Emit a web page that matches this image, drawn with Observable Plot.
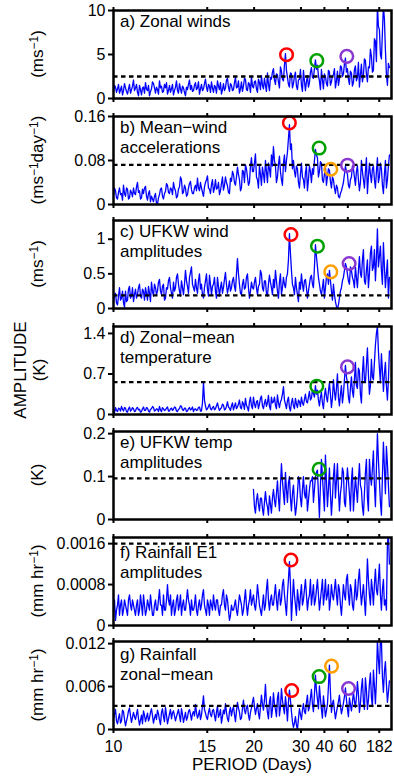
<!DOCTYPE html>
<html><head><meta charset="utf-8">
<script src="https://cdn.jsdelivr.net/npm/d3@7"></script>
<script src="https://cdn.jsdelivr.net/npm/@observablehq/plot@0.6"></script>
<style>
body{margin:0;background:#fff;}
#chart{position:relative;width:394px;height:776px;font-family:"Liberation Sans",Arial,Helvetica,sans-serif;}
#chart svg{position:absolute;left:0;overflow:visible;}
</style></head><body><div id="chart"></div>
<script>
// x tick labels (period, days); x scale is linear in frequency (1/period)
const periodTicks = [10, 15, 20, 30, 40, 60, 182];
const freqStep = 0.0003555;   // spectral grid spacing (cycles/day)
const freqFirst = 0.1;

// a) Zonal winds (m/s)
const zonalWinds = [
0.8,1.5,1.3,0.7,1.1,1.6,0.6,1.0,1.4,0.4,0.9,1.7,1.2,0.8,0.5,1.1,1.6,0.6,1.0,1.4,
2.1,0.9,1.2,1.6,0.7,0.3,1.5,1.0,0.4,1.2,1.3,0.6,1.8,1.1,0.9,1.5,0.3,0.8,1.1,1.9,
1.7,1.2,0.6,1.3,1.0,0.5,2.0,1.2,1.4,0.7,0.8,1.6,1.2,1.8,0.5,0.9,1.5,0.7,1.1,1.6,
0.4,0.9,1.3,2.0,0.9,0.6,1.7,1.1,0.6,1.4,1.2,0.7,0.3,1.3,1.0,1.6,2.1,1.0,1.5,0.8,
0.9,1.5,1.8,1.0,1.2,1.9,0.5,1.1,1.6,0.9,1.1,1.7,2.2,1.3,0.8,1.6,1.4,0.7,1.9,1.2,
0.7,1.5,1.3,0.6,2.0,1.4,1.0,1.8,0.5,1.0,1.7,0.9,1.2,2.1,2.3,1.3,0.8,1.7,1.5,0.9,
1.0,1.8,2.4,1.2,1.3,2.0,0.6,1.1,1.9,0.8,1.4,2.3,2.2,1.0,0.9,1.8,1.6,0.7,2.5,1.4,
1.2,1.9,2.0,1.1,0.7,2.2,1.8,1.0,2.6,1.5,1.1,2.3,1.5,0.8,2.9,1.6,0.9,2.4,2.2,3.0,
3.4,2.1,1.6,2.8,2.7,1.9,1.2,3.6,3.1,2.2,2.0,3.8,5.1,3.2,2.4,1.6,1.3,2.9,2.8,1.2,
1.7,2.5,3.0,1.4,1.0,2.1,2.2,3.3,1.5,0.8,3.2,2.0,0.9,1.9,2.6,1.3,1.8,3.0,3.5,2.4,
2.3,3.4,4.4,3.3,3.8,2.6,2.0,1.0,3.3,2.1,1.1,2.8,2.5,1.7,1.4,3.2,3.0,1.5,1.9,2.6,
2.7,3.4,1.2,2.0,3.1,1.5,2.2,3.7,3.6,2.5,2.8,3.9,4.6,3.0,3.4,2.2,1.6,3.1,2.9,1.4,
1.8,3.3,3.7,2.0,2.4,4.1,1.3,2.7,3.9,1.9,2.6,4.5,4.3,2.8,1.9,3.6,3.5,5.6,4.8,3.0,
3.2,6.8,6.5,4.2,10.5,8.2,7.8,5.0,4.5,7.5,10.5,9.0,5.5,2.8,1.5,4.0,3.5];
// b) Mean-wind accelerations (m/s/day)
const meanWindAcc = [
0.015,0.03,0.025,0.012,0.01,0.022,0.03,0.018,0.02,0.008,0.035,0.02,0.015,0.03,0.028,0.01,0.012,0.026,0.022,0.014,
0.03,0.02,0.018,0.032,0.04,0.022,0.025,0.01,0.012,0.028,0.02,0.03,0.033,0.015,0.008,0.02,0.025,0.005,0.015,0.01,
0.005,0.015,0.02,0.002,0.0,0.012,0.018,0.028,0.03,0.015,0.01,0.02,0.024,0.038,0.035,0.022,0.02,0.03,0.028,0.018,
0.04,0.03,0.025,0.012,0.015,0.028,0.032,0.05,0.045,0.02,0.022,0.035,0.03,0.015,0.018,0.03,0.038,0.042,0.027,0.02,
0.02,0.03,0.035,0.025,0.048,0.03,0.025,0.04,0.03,0.022,0.015,0.032,0.04,0.045,0.052,0.03,0.028,0.02,0.036,0.045,
0.022,0.03,0.045,0.028,0.03,0.04,0.018,0.025,0.038,0.05,0.026,0.035,0.05,0.04,0.034,0.022,0.02,0.048,0.042,0.06,
0.055,0.04,0.035,0.05,0.068,0.055,0.045,0.025,0.03,0.062,0.06,0.04,0.072,0.065,0.05,0.035,0.04,0.07,0.085,0.06,
0.06,0.075,0.092,0.05,0.045,0.03,0.07,0.055,0.035,0.068,0.055,0.04,0.08,0.06,0.04,0.075,0.065,0.05,0.09,0.07,
0.105,0.08,0.07,0.04,0.05,0.072,0.088,0.06,0.045,0.035,0.075,0.09,0.06,0.08,0.095,0.12,0.145,0.1,0.11,0.065,
0.08,0.06,0.05,0.07,0.065,0.04,0.03,0.055,0.075,0.05,0.045,0.03,0.058,0.07,0.025,0.045,0.07,0.06,0.04,0.065,
0.055,0.08,0.1,0.09,0.085,0.05,0.06,0.078,0.075,0.045,0.04,0.055,0.07,0.035,0.05,0.065,0.062,0.042,0.03,0.05,
0.045,0.03,0.02,0.035,0.03,0.015,0.012,0.02,0.025,0.032,0.04,0.055,0.07,0.06,0.055,0.035,0.03,0.045,0.05,0.07,
0.065,0.05,0.035,0.06,0.07,0.045,0.025,0.04,0.08,0.06,0.045,0.03,0.06,0.085,0.02,0.05,0.075,0.055,0.04,0.065,
0.07,0.045,0.03,0.06,0.085,0.04,0.05,0.075,0.065,0.035,0.02,0.055,0.08,0.03,0.045,0.07,0.09];
// c) UFKW wind amplitudes (m/s)
const ufkwWind = [
0.1,0.2,0.22,0.08,0.05,0.18,0.3,0.12,0.15,0.25,0.08,0.02,0.25,0.1,0.12,0.28,0.32,0.15,0.18,0.3,
0.1,0.2,0.28,0.15,0.2,0.3,0.35,0.18,0.15,0.28,0.25,0.12,0.3,0.22,0.12,0.32,0.22,0.1,0.38,0.25,
0.18,0.35,0.3,0.2,0.25,0.38,0.42,0.25,0.2,0.32,0.35,0.12,0.15,0.3,0.28,0.4,0.45,0.3,0.22,0.15,
0.38,0.25,0.3,0.45,0.5,0.35,0.25,0.18,0.4,0.3,0.2,0.35,0.55,0.4,0.32,0.22,0.45,0.52,0.6,0.35,
0.3,0.25,0.42,0.3,0.22,0.4,0.5,0.28,0.35,0.2,0.15,0.3,0.4,0.5,0.28,0.18,0.48,0.35,0.2,0.32,
0.35,0.45,0.25,0.15,0.45,0.32,0.18,0.3,0.38,0.22,0.3,0.42,0.52,0.35,0.22,0.3,0.4,0.25,0.3,0.4,
0.45,0.32,0.25,0.5,0.72,0.5,0.35,0.22,0.2,0.35,0.42,0.28,0.3,0.45,0.5,0.3,0.15,0.25,0.38,0.3,
0.28,0.38,0.45,0.3,0.2,0.32,0.35,0.55,0.5,0.3,0.25,0.4,0.4,0.22,0.18,0.35,0.48,0.38,0.3,0.2,
0.42,0.3,0.55,0.4,0.25,0.15,0.38,0.5,0.2,0.3,0.45,0.35,0.3,0.45,0.5,0.7,1.08,0.8,0.55,0.35,
0.3,0.2,0.45,0.3,0.2,0.1,0.38,0.28,0.5,0.35,0.25,0.4,0.42,0.3,0.15,0.25,0.35,0.45,0.48,0.35,
0.3,0.6,0.92,0.75,0.6,0.45,0.35,0.25,0.2,0.3,0.42,0.15,0.3,0.45,0.5,0.35,0.55,0.4,0.25,0.12,
0.35,0.2,0.1,0.03,0.0,0.05,0.15,0.25,0.3,0.4,0.45,0.55,0.65,0.6,0.5,0.4,0.35,0.6,0.55,0.45,
0.4,0.3,0.6,0.45,0.3,0.55,0.75,0.5,0.45,0.7,0.85,0.4,0.35,0.55,0.7,0.3,0.5,0.8,0.9,0.55,
0.6,0.85,0.4,0.7,1.15,0.6,0.75,0.9,0.55,0.35,0.95,0.6,0.3,0.5,0.7,0.15,0.45];
// d) Zonal-mean temperature (K)
const zonalMeanTemp = [
0.08,0.03,0.12,0.07,0.05,0.11,0.1,0.06,0.14,0.09,0.06,0.12,0.11,0.05,0.04,0.1,0.13,0.06,0.08,0.12,
0.1,0.05,0.06,0.11,0.12,0.08,0.09,0.04,0.05,0.1,0.13,0.07,0.07,0.12,0.11,0.06,0.04,0.09,0.1,0.14,
0.12,0.06,0.07,0.1,0.09,0.05,0.14,0.08,0.05,0.12,0.1,0.07,0.08,0.11,0.13,0.06,0.06,0.1,0.11,0.07,
0.09,0.13,0.12,0.06,0.05,0.09,0.1,0.15,0.14,0.08,0.07,0.11,0.11,0.05,0.06,0.1,0.12,0.08,0.09,0.13,
0.05,0.09,0.1,0.07,0.08,0.12,0.13,0.06,0.06,0.2,0.55,0.25,0.15,0.08,0.1,0.14,0.18,0.1,0.08,0.12,
0.14,0.08,0.1,0.15,0.2,0.12,0.07,0.1,0.12,0.18,0.16,0.08,0.09,0.14,0.22,0.13,0.11,0.07,0.15,0.2,
0.08,0.14,0.2,0.1,0.13,0.18,0.25,0.12,0.1,0.22,0.18,0.09,0.28,0.16,0.12,0.06,0.22,0.3,0.15,0.1,
0.3,0.18,0.12,0.22,0.24,0.1,0.18,0.28,0.32,0.15,0.1,0.2,0.26,0.14,0.2,0.33,0.14,0.08,0.3,0.2,
0.22,0.3,0.16,0.1,0.34,0.2,0.12,0.22,0.26,0.35,0.48,0.25,0.18,0.1,0.24,0.3,0.12,0.06,0.2,0.28,
0.15,0.1,0.28,0.18,0.12,0.25,0.22,0.14,0.3,0.2,0.16,0.26,0.35,0.22,0.2,0.3,0.4,0.25,0.28,0.42,
0.36,0.3,0.5,0.35,0.42,0.25,0.15,0.3,0.38,0.2,0.1,0.32,0.45,0.3,0.22,0.4,0.55,0.35,0.12,0.28,
0.6,0.4,0.25,0.45,0.7,0.3,0.15,0.35,0.5,0.2,0.35,0.6,0.85,0.65,0.55,0.3,0.2,0.45,0.65,0.4,
0.3,0.6,0.9,0.5,0.45,0.8,0.75,0.35,0.2,0.7,1.0,0.6,0.55,0.85,1.15,0.7,0.35,0.5,0.95,0.65,
0.6,0.9,1.2,1.4,1.52,1.1,0.8,0.55,1.05,0.75,0.4,0.7,0.9,0.5,0.25,0.6,1.1];
// e) UFKW temp amplitudes (K); record starts at grid index 140 (~20 days)
const ufkwTempStart = 140;
const ufkwTemp = [
0.07,0.03,0.015,0.045,0.06,0.035,0.02,0.05,0.05,0.025,0.01,0.04,0.065,0.04,0.03,0.01,0.055,0.035,0.015,0.05,
0.07,0.045,0.03,0.06,0.09,0.05,0.02,0.08,0.13,0.09,0.06,0.035,0.11,0.07,0.04,0.085,0.1,0.05,0.02,0.06,
0.08,0.04,0.01,0.03,0.06,0.1,0.09,0.05,0.03,0.07,0.1,0.06,0.05,0.08,0.02,0.045,0.07,0.09,0.09,0.1,
0.04,0.07,0.1,0.11,0.115,0.06,0.005,0.08,0.14,0.1,0.06,0.02,0.15,0.09,0.03,0.07,0.12,0.06,0.01,0.05,
0.1,0.13,0.05,0.09,0.13,0.07,0.02,0.06,0.08,0.12,0.11,0.04,0.03,0.08,0.12,0.09,0.06,0.02,0.09,0.12,
0.02,0.06,0.1,0.07,0.04,0.09,0.13,0.08,0.07,0.03,0.01,0.06,0.11,0.14,0.05,0.02,0.14,0.1,0.08,0.12,
0.16,0.08,0.03,0.12,0.2,0.14,0.09,0.04,0.01,0.1,0.18,0.12,0.06,0.17,0.13,0.08,0.03];
// f) Rainfall E1 amplitudes (mm/hr)
const rainE1 = [
0.0003,0.0005,0.0001,0.0003,0.0004,0.0006,0.0002,0.0004,0.0005,0.0002,0.0003,0.0005,0.0004,0.0003,0.0002,0.0005,0.0006,0.0004,0.0003,0.0005,
0.0004,0.0003,0.0002,0.0004,0.0005,0.0002,0.0003,0.0006,0.0004,0.0002,0.0006,0.0004,0.0002,0.0003,0.0005,0.0004,0.0003,0.0006,0.0004,0.0002,
0.0002,0.0004,0.0005,0.0003,0.0003,0.0005,0.0007,0.0004,0.0004,0.0002,0.0006,0.0003,0.0003,0.0005,0.0008,0.0005,0.0004,0.0006,0.0002,0.0004,
0.0005,0.0002,0.0003,0.0005,0.0006,0.0003,0.0004,0.0006,0.0002,0.0004,0.0005,0.0003,0.0003,0.0005,0.0007,0.0005,0.0004,0.0002,0.0005,0.0003,
0.0003,0.0004,0.0006,0.0003,0.0002,0.0004,0.0005,0.0003,0.0004,0.0006,0.0007,0.0004,0.0003,0.0002,0.0005,0.0004,0.0002,0.0005,0.0004,0.0003,
0.0006,0.0004,0.0003,0.0005,0.0005,0.0003,0.0002,0.0004,0.0004,0.0006,0.0007,0.0004,0.0003,0.0006,0.0005,0.0003,0.0001,0.0002,0.0004,0.0003,
0.0003,0.0004,0.0005,0.0003,0.0002,0.0004,0.0006,0.0005,0.0004,0.0002,0.0003,0.0005,0.0007,0.0004,0.0002,0.0004,0.0005,0.0007,0.0004,0.0005,
0.0006,0.0004,0.0003,0.0005,0.0008,0.0006,0.0004,0.0003,0.0002,0.0004,0.0006,0.0003,0.0004,0.0007,0.0009,0.0005,0.0003,0.0005,0.0006,0.0004,
0.0004,0.0006,0.0008,0.0005,0.0003,0.0006,0.0007,0.0004,0.0005,0.0008,0.0009,0.0006,0.0004,0.0002,0.0006,0.0009,0.00125,0.0008,0.0001,0.0005,
0.0009,0.0006,0.0004,0.0002,0.0007,0.0005,0.0003,0.0006,0.0008,0.0004,0.0005,0.0007,0.0009,0.0006,0.0003,0.0005,0.0006,0.0009,0.0004,0.0006,
0.0008,0.0004,0.0005,0.0007,0.0009,0.0006,0.0003,0.0005,0.0007,0.0009,0.0004,0.0006,0.0009,0.0005,0.0006,0.0008,0.0003,0.0005,0.0008,0.0006,
0.0005,0.0007,0.0009,0.0006,0.0004,0.0008,0.0007,0.0004,0.0002,0.0005,0.0008,0.0006,0.0005,0.0009,0.001,0.0006,0.0004,0.0008,0.0007,0.0004,
0.0003,0.0006,0.0009,0.0005,0.0006,0.0009,0.0011,0.0007,0.0004,0.0006,0.0008,0.0005,0.0002,0.0007,0.0013,0.0009,0.0006,0.0004,0.0009,0.0007,
0.0004,0.0008,0.0011,0.0007,0.0006,0.0009,0.0012,0.0006,0.0003,0.0007,0.0009,0.0004,0.0005,0.0003,0.0016,0.0018,0.0012];
// g) Rainfall zonal-mean (mm/hr)
const rainZonalMean = [
0.0015,0.0022,0.0028,0.0012,0.0008,0.0016,0.0022,0.0009,0.0012,0.0027,0.0025,0.0014,0.0005,0.0012,0.0018,0.0026,0.003,0.0019,0.001,0.0017,
0.0024,0.0018,0.0014,0.0021,0.0028,0.0015,0.0006,0.0013,0.002,0.0008,0.0026,0.002,0.0011,0.0017,0.0023,0.0012,0.0016,0.0024,0.0029,0.0019,
0.0009,0.0016,0.0021,0.0014,0.0027,0.0022,0.0013,0.0007,0.0024,0.0029,0.0018,0.0011,0.0031,0.002,0.0008,0.0015,0.0022,0.0028,0.0015,0.0023,
0.0026,0.0019,0.0012,0.0018,0.0023,0.0028,0.0019,0.0011,0.0029,0.0021,0.001,0.0017,0.0024,0.0013,0.0017,0.0025,0.0028,0.0021,0.0013,0.0022,
0.0025,0.0019,0.0035,0.0024,0.0016,0.002,0.0027,0.0014,0.002,0.0033,0.0047,0.0028,0.0023,0.0017,0.0014,0.0024,0.003,0.0021,0.0018,0.0026,
0.0028,0.002,0.0012,0.0024,0.0033,0.0017,0.0021,0.0028,0.0009,0.0018,0.0027,0.0022,0.0036,0.0024,0.0015,0.0011,0.0025,0.0031,0.0019,0.0027,
0.0032,0.0021,0.0011,0.0026,0.0038,0.003,0.0024,0.0014,0.0016,0.0029,0.0041,0.0027,0.0022,0.0031,0.0034,0.002,0.0013,0.0024,0.003,0.0038,
0.0045,0.0032,0.0021,0.0029,0.0036,0.0023,0.0015,0.0032,0.0048,0.0035,0.0027,0.0041,0.0063,0.0037,0.0024,0.0015,0.0039,0.0046,0.0017,0.0028,
0.0051,0.0036,0.0028,0.0018,0.0044,0.0052,0.0019,0.0031,0.0057,0.0041,0.003,0.0022,0.0046,0.0033,0.0012,0.0038,0.0055,0.0041,0.0025,0.0011,
0.0003,0.0009,0.0018,0.0006,0.0,0.0015,0.0029,0.0021,0.0014,0.0027,0.0036,0.0025,0.0022,0.0038,0.0048,0.0026,0.0031,0.0044,0.0056,0.0035,
0.0025,0.0049,0.0076,0.0055,0.0042,0.0029,0.0061,0.0043,0.0028,0.0016,0.0047,0.0033,0.0018,0.0026,0.0035,0.006,0.009,0.0052,0.0024,0.0036,
0.0041,0.0027,0.0015,0.0024,0.0032,0.0039,0.0048,0.0033,0.0022,0.0029,0.0037,0.0046,0.0058,0.0042,0.0029,0.0018,0.0044,0.0035,0.0026,0.0038,
0.0052,0.004,0.0031,0.0045,0.0067,0.0049,0.0024,0.0036,0.0058,0.0071,0.0039,0.0028,0.0072,0.0055,0.0028,0.0041,0.0064,0.0079,0.0045,0.0032,
0.0083,0.0061,0.0036,0.0068,0.0125,0.0098,0.0078,0.0125,0.0125,0.0073,0.0052,0.0081,0.0095,0.0064,0.0038,0.0052,0.0068];

// significance thresholds (dashed lines)
const thresholds = [2.5, 0.072, 0.19, 0.56, 0.096, 0.0016, 0.0033];

// highlighted peaks: period (days), amplitude, colour name
const circlesA = {period:[26.0, 36.1, 58.7], value:[4.98, 4.30, 4.79], color:["red","green","purple"]};
const circlesB = {period:[26.7, 37.2, 44.0, 59.6], value:[0.1485, 0.1026, 0.0641, 0.0715], color:["red","green","orange","purple"]};
const circlesC = {period:[27.1, 36.4, 44.0, 61.7], value:[1.068, 0.899, 0.528, 0.649], color:["red","green","orange","purple"]};
const circlesD = {period:[36.1, 59.6], value:[0.489, 0.822], color:["green","purple"]};
const circlesE = {period:[37.2], value:[0.117], color:["green"]};
const circlesF = {period:[27.1], value:[0.00128], color:["red"]};
const circlesG = {period:[27.3, 37.2, 44.5, 60.9], value:[0.00545, 0.0074, 0.00886, 0.00573], color:["red","green","orange","purple"]};

const colorMap = {red:"#ff0000", green:"#00a000", orange:"#ffa000", purple:"#8a38d0"};

const panels = [
  {label:["a) Zonal winds"], unit:[["(ms",""],["−1","sup"],[")",""]], values:zonalWinds, start:0, ymax:10, yticks:[0,5,10], circles:circlesA, top:10, ldy:0},
  {label:["b) Mean−wind","accelerations"], unit:[["(ms",""],["−1","sup"],["day",""],["−1","sup"],[")",""]], values:meanWindAcc, start:0, ymax:0.16, yticks:[0,0.08,0.16], circles:circlesB, top:116, ldy:0},
  {label:["c) UFKW wind","amplitudes"], unit:[["(ms",""],["−1","sup"],[")",""]], values:ufkwWind, start:0, ymax:1.27, yticks:[0,0.5,1], circles:circlesC, top:220, ldy:0},
  {label:["d) Zonal−mean","temperature"], unit:[["(K)",""]], values:zonalMeanTemp, start:0, ymax:1.52, yticks:[0,0.7,1.4], circles:circlesD, top:326, big:"AMPLITUDE", ldy:0},
  {label:["e) UFKW temp","amplitudes"], unit:[["(K)",""]], values:ufkwTemp, start:ufkwTempStart, ymax:0.205, yticks:[0,0.1,0.2], circles:circlesE, top:431, ldy:0},
  {label:["f) Rainfall E1","amplitudes"], unit:[["(mm hr",""],["−1","sup"],[")",""]], values:rainE1, start:0, ymax:0.00172, yticks:[0,0.0008,0.0016], circles:circlesF, top:537, ldy:4},
  {label:["g) Rainfall","zonal−mean"], unit:[["(mm hr",""],["−1","sup"],[")",""]], values:rainZonalMean, start:0, ymax:0.0123, yticks:[0,0.006,0.012], circles:circlesG, top:641, ldy:2}
];

const container = document.getElementById("chart");
const PH = 88, MT = 6;
const tickFreqs = periodTicks.map(p => 1 / p);

panels.forEach((p, k) => {
  const last = k === panels.length - 1;
  const MB = last ? 50 : 6;
  const series = p.values.map((v, j) => ({f: freqFirst - (p.start + j) * freqStep, v}));
  const circ = p.circles.period.map((per, j) => ({f: 1 / per, v: p.circles.value[j], c: colorMap[p.circles.color[j]]}));
  const svg = Plot.plot({
    width: 394, height: MT + PH + MB,
    marginTop: MT, marginBottom: MB, marginLeft: 113, marginRight: 3,
    style: {fontFamily: '"Liberation Sans", Arial, sans-serif', fontSize: "16px", color: "black", background: "transparent", overflow: "visible"},
    x: {type: "linear", domain: [0.1, 0.00114], label: null},
    y: {domain: [0, p.ymax], label: null},
    marks: [
      Plot.line(series, {x: "f", y: "v", stroke: "#0000ff", strokeWidth: 1.3, clip: true}),
      Plot.ruleY([thresholds[k]], {stroke: "black", strokeWidth: 2.3, strokeDasharray: "4.5,3.5"}),
      Plot.dot(circ, {x: "f", y: "v", r: 6.3, stroke: "c", strokeWidth: 2.5, fill: "none"}),
      Plot.axisY({ticks: p.yticks, tickSize: 5, tickPadding: 3, strokeWidth: 2, tickFormat: d => String(d), fontSize: 16}),
      Plot.axisX({anchor: "top", ticks: tickFreqs, tickSize: 4, strokeWidth: 2, tickFormat: () => ""}),
      Plot.axisX({anchor: "bottom", ticks: tickFreqs, tickSize: 4, strokeWidth: 2, tickPadding: 7, fontSize: 16,
        tickFormat: last ? (d => String(Math.round(1 / d))) : (() => "")}),
      Plot.frame({stroke: "black", strokeWidth: 2.5})
    ]
  });
  svg.style.top = (p.top - MT) + "px";
  const s = d3.select(svg);
  // panel label
  const t = s.append("text").attr("text-anchor", "start")
    .attr("font-size", 17).attr("fill", "black");
  p.label.forEach((line, j) => {
    t.append("tspan").attr("x", 120).attr("y", MT + 17 + p.ldy + j * 19.5).text(line);
  });
  // unit label (rotated)
  const cy = MT + PH / 2;
  const u = s.append("text").attr("transform", `translate(${p.big ? 39 : 37},${cy}) rotate(-90)`)
    .attr("text-anchor", "middle").attr("dy", "0.35em").attr("font-size", 17).attr("fill", "black");
  p.unit.forEach(([txt, kind]) => {
    if (kind === "sup") u.append("tspan").attr("font-size", 12).attr("baseline-shift", "45%").text(txt);
    else u.append("tspan").text(txt);
  });
  if (p.big) {
    s.append("text").attr("transform", `translate(20,${cy}) rotate(-90)`)
      .attr("text-anchor", "middle").attr("dy", "0.35em").attr("font-size", 17).attr("fill", "black").text(p.big);
  }
  if (last) {
    s.append("text").attr("x", 252).attr("y", MT + PH + 41).attr("text-anchor", "middle")
      .attr("font-size", 17).attr("fill", "black").text("PERIOD (Days)");
  }
  container.appendChild(svg);
});
</script></body></html>
